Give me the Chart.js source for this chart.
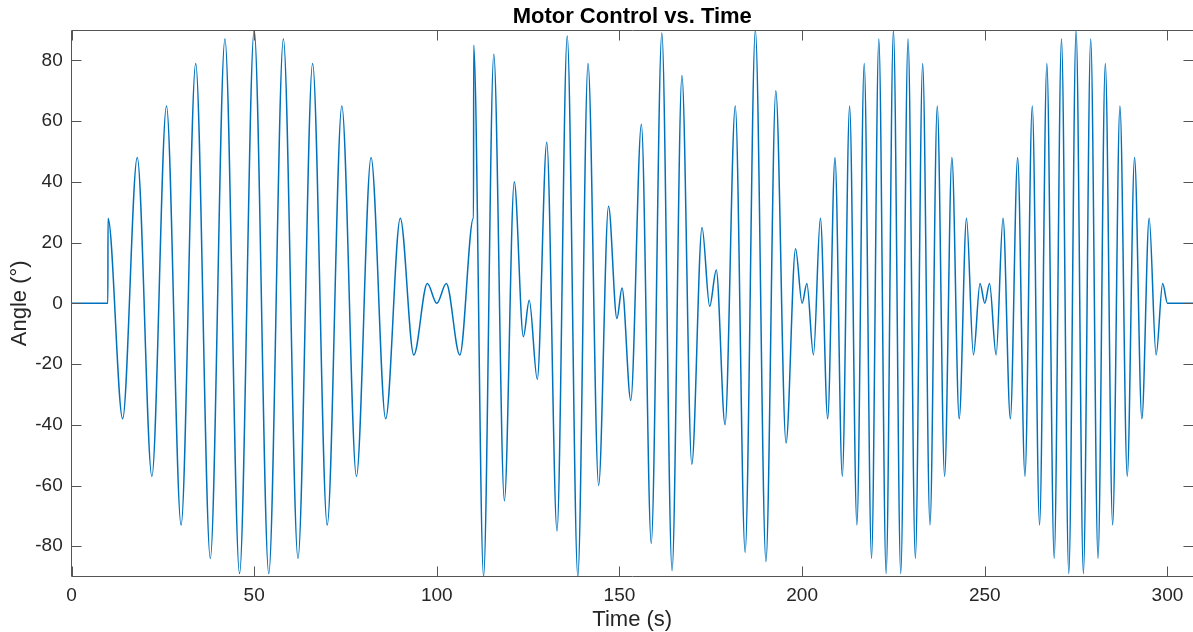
<!DOCTYPE html>
<html lang="en">
<head>
  <meta charset="UTF-8">
  <title>Motor Control vs. Time</title>
  <script src="https://cdn.jsdelivr.net/npm/chart.js"></script>
  <style>
    html, body { margin: 0; padding: 0; background: #fff; }
    #wrap { width: 1193px; height: 632px; position: relative; }
  </style>
</head>
<body>
  <div id="wrap"><canvas id="motorChart"></canvas></div>

  <script>
    // axis ticks
    const timeTicks = [0, 50, 100, 150, 200, 250, 300];
    const angleTicks = [-80, -60, -40, -20, 0, 20, 40, 60, 80];

    // idle, then first slow beat (0 - 110 s): peaks / troughs
    const slowTime  = [0, 9.95, 10, 14, 18, 22, 26, 30, 34, 38, 42, 46, 50, 54, 58, 62, 66, 70, 74, 78,
                       82, 86, 90, 93.7, 97.4, 100, 102.6, 106.3, 110, 110.05];
    const slowAngle = [0, 0, 28, -38, 48, -57, 65, -73, 79, -84, 87, -89, 90, -89, 87, -84, 79, -73, 65, -57,
                       48, -38, 28, -17, 6.5, 0, 6.5, -17, 28, 28];

    // mixed section (110 - 200 s)
    const mixTime  = [110.1, 112.8, 115.6, 118.5, 121.2, 123.7, 125.3, 127.5, 130.1, 132.9, 135.7, 138.6,
                      141.4, 144.3, 147.0, 149.3, 150.7, 153.1, 156.0, 158.7, 161.6, 164.4, 167.1, 169.8,
                      172.6, 174.7, 176.5, 178.9, 181.7, 184.4, 187.2, 190.1, 192.8, 195.6, 198.2];
    const mixAngle = [85, -90, 82, -65, 40, -11, 1, -25, 53, -75, 88, -90,
                      79, -60, 32, -5, 5, -32, 59, -79, 89, -88, 75, -53,
                      25, -1, 11, -40, 65, -82, 90, -85, 70, -46, 18];

    // fast beat (200 - 307 s)
    const fastTime  = [200, 201.3, 203.1, 205, 207, 209, 211, 213, 215, 217, 219, 221, 223, 225, 227, 229,
                       231, 233, 235, 237, 239, 241, 243, 245, 246.9, 248.7, 250, 251.3, 253.1, 255, 257,
                       259, 261, 263, 265, 267, 269, 271, 273, 275, 277, 279, 281, 283, 285, 287, 289, 291,
                       293, 295, 296.9, 298.7, 300, 307];
    const fastAngle = [0, 6.5, -17, 28, -38, 48, -57, 65, -73, 79, -84, 87, -89, 90, -89, 87,
                       -84, 79, -73, 65, -57, 48, -38, 28, -17, 6.5, 0, 6.5, -17, 28, -38,
                       48, -57, 65, -73, 79, -84, 87, -89, 90, -89, 87, -84, 79, -73, 65, -57, 48,
                       -38, 28, -17, 6.5, 0, 0];

    const allTime = slowTime.concat(mixTime, fastTime);
    const allAngle = slowAngle.concat(mixAngle, fastAngle);
    const points = allTime.map((t, i) => ({ x: t, y: allAngle[i] }));

    const AXIS_COLOR = '#555555';
    const TICK_LEN = 10;

    Chart.defaults.font.family = "'Liberation Sans', Arial, Helvetica, sans-serif";

    // MATLAB style box with inward ticks on all four sides
    const boxPlugin = {
      id: 'matlabBox',
      afterDatasetsDraw(chart) {
        const { ctx, chartArea: a, scales } = chart;
        const l = Math.round(a.left) - 0.5, r = Math.round(a.right) + 0.5;
        const t = Math.round(a.top) + 0.5, b = Math.round(a.bottom) - 0.5;
        ctx.save();
        ctx.strokeStyle = AXIS_COLOR;
        ctx.lineWidth = 1;
        ctx.beginPath();
        ctx.rect(l, t, r - l, b - t);
        timeTicks.forEach(v => {
          const px = Math.round(scales.x.getPixelForValue(v)) + 0.5;
          ctx.moveTo(px, b); ctx.lineTo(px, b - TICK_LEN);
          ctx.moveTo(px, t); ctx.lineTo(px, t + TICK_LEN);
        });
        angleTicks.forEach(v => {
          const py = Math.round(scales.y.getPixelForValue(v)) + 0.5;
          ctx.moveTo(l, py); ctx.lineTo(l + TICK_LEN, py);
          ctx.moveTo(r, py); ctx.lineTo(r - TICK_LEN, py);
        });
        ctx.stroke();
        ctx.restore();
      }
    };

    const ctx = document.getElementById('motorChart').getContext('2d');
    new Chart(ctx, {
      type: 'line',
      data: {
        datasets: [{
          label: 'Angle',
          data: points,
          borderColor: '#0072BD',
          borderWidth: 1.5,
          pointRadius: 0,
          fill: false,
          cubicInterpolationMode: 'monotone'
        }]
      },
      options: {
        responsive: true,
        maintainAspectRatio: false,
        animation: false,
        layout: { padding: { left: 0, right: 0, top: 0, bottom: 0 } },
        plugins: {
          legend: { display: false },
          tooltip: { enabled: false },
          title: {
            display: true,
            text: 'Motor Control vs. Time',
            fullSize: false,
            color: '#000',
            font: { size: 22, weight: 'bold', lineHeight: 1 },
            padding: { top: 6.3, bottom: 1.7 }
          }
        },
        scales: {
          x: {
            type: 'linear',
            min: 0,
            max: 307,
            afterBuildTicks: s => { s.ticks = timeTicks.map(v => ({ value: v })); },
            afterFit: s => { s.height = 55.4; },
            grid: { display: false, drawTicks: false },
            border: { display: false },
            ticks: { color: '#262626', font: { size: 19 }, padding: 7.5, maxRotation: 0 },
            title: {
              display: true,
              text: 'Time (s)',
              color: '#262626',
              font: { size: 22, lineHeight: 1 },
              padding: { top: 0, bottom: 1.4 }
            }
          },
          y: {
            min: -90,
            max: 90,
            afterBuildTicks: s => { s.ticks = angleTicks.map(v => ({ value: v })); },
            afterFit: s => { s.width = 71.5; },
            grid: { display: false, drawTicks: false },
            border: { display: false },
            ticks: { color: '#262626', font: { size: 19 }, padding: 8.8 },
            title: {
              display: true,
              text: 'Angle (°)',
              color: '#262626',
              font: { size: 22, lineHeight: 1 },
              padding: { top: 8.5, bottom: 0 }
            }
          }
        }
      },
      plugins: [boxPlugin]
    });
  </script>
</body>
</html>
